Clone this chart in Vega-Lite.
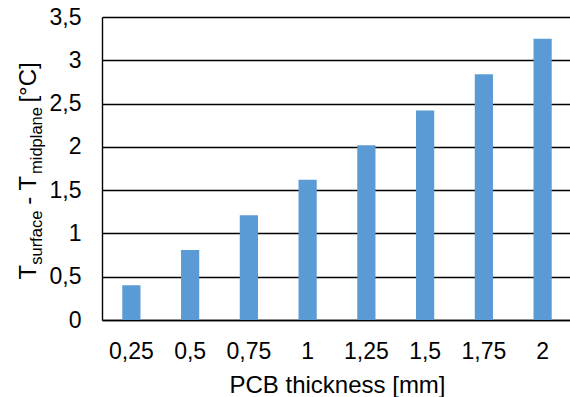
{
  "$schema": "https://vega.github.io/schema/vega-lite/v6.json",
  "width": 470,
  "height": 303,
  "autosize": "none",
  "padding": {"left": 102, "top": 17, "right": 0, "bottom": 77},
  "background": "white",
  "data": {"values": [
    {"thickness": "0,25", "dt": 0.40},
    {"thickness": "0,5", "dt": 0.81},
    {"thickness": "0,75", "dt": 1.21},
    {"thickness": "1", "dt": 1.62},
    {"thickness": "1,25", "dt": 2.02},
    {"thickness": "1,5", "dt": 2.42},
    {"thickness": "1,75", "dt": 2.84},
    {"thickness": "2", "dt": 3.25}
  ]},
  "config": {
    "font": "Liberation Sans",
    "view": {"stroke": null},
    "axis": {
      "labelFont": "Liberation Sans",
      "titleFont": "Liberation Sans",
      "labelColor": "#000000",
      "titleColor": "#000000",
      "titleFontWeight": "normal",
      "domainColor": "#000000",
      "domainWidth": 1.4,
      "ticks": false,
      "tickSize": 0
    }
  },
  "layer": [
    {
      "mark": {"type": "bar", "color": "#5B9BD5"},
      "encoding": {
        "x": {
          "field": "thickness", "type": "nominal", "sort": null,
          "scale": {"paddingInner": 0.69, "paddingOuter": 0.345},
          "axis": {
            "title": "PCB thickness [mm]",
            "labelAngle": 0,
            "labelFontSize": 23,
            "labelPadding": 20,
            "labelBaseline": "top",
            "titleFontSize": 24,
            "titleBaseline": "alphabetic",
            "titleY": 72,
            "titleX": 235,
            "titleAlign": "center",
            "grid": false
          }
        },
        "y": {
          "field": "dt", "type": "quantitative",
          "scale": {"domain": [0, 3.5], "nice": false},
          "axis": {
            "values": [0, 0.5, 1, 1.5, 2, 2.5, 3, 3.5],
            "labelExpr": "replace(format(datum.value, '.1~f'), '.', ',')",
            "labelFontSize": 23,
            "labelPadding": 21,
            "labelBaseline": "middle",
            "grid": true,
            "gridColor": "#000000",
            "gridWidth": 1.4,
            "gridOpacity": 1,
            "title": "T\u00a0\u00a0\u00a0\u00a0\u00a0\u00a0\u00a0\u00a0\u00a0- T\u00a0\u00a0\u00a0\u00a0\u00a0\u00a0\u00a0\u00a0\u00a0\u00a0\u00a0[°C]",
            "titleFontSize": 24,
            "titleAngle": -90,
            "titleAlign": "left",
            "titleBaseline": "alphabetic",
            "titleX": -67,
            "titleY": 262
          }
        }
      }
    },
    {
      "mark": {"type": "bar", "color": "#5B9BD5", "opacity": 0},
      "encoding": {
        "x": {"field": "thickness", "type": "nominal", "sort": null},
        "y": {
          "field": "dt", "type": "quantitative",
          "scale": {"domain": [0, 3.5], "nice": false},
          "axis": {
            "orient": "left",
            "labels": false,
            "ticks": false,
            "domain": false,
            "grid": false,
            "title": "surface\u00a0\u00a0\u00a0\u00a0\u00a0\u00a0\u00a0\u00a0midplane",
            "titleFontSize": 16.5,
            "titleAngle": -90,
            "titleAlign": "left",
            "titleBaseline": "alphabetic",
            "titleX": -61,
            "titleY": 247.3
          }
        }
      }
    }
  ],
  "resolve": {"scale": {"y": "independent"}}
}
